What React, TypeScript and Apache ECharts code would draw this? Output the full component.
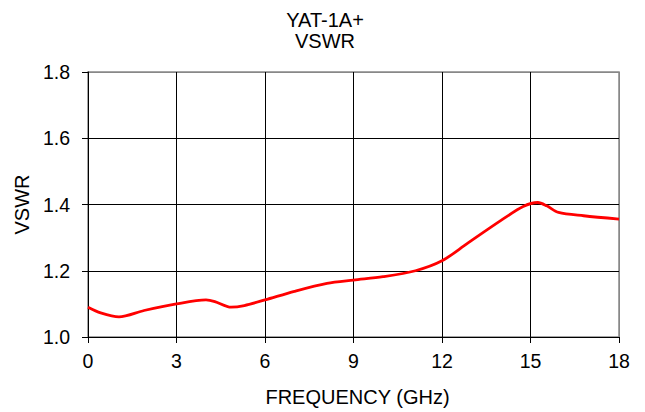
import React, { useEffect, useRef } from "react";
import * as echarts from "echarts";

const titleLines = ["YAT-1A+", "VSWR"];
const xTicks = [0, 3, 6, 9, 12, 15, 18];
const yTicks = [1.0, 1.2, 1.4, 1.6, 1.8];
const freqGHz = [0, 0.43, 1.05, 1.9, 3, 4.0, 4.3, 4.85, 5.3, 6, 7, 8.1, 9, 10, 11.1, 12, 12.85, 14, 14.75, 15.25, 15.55, 15.95, 16.8, 18];
const vswr = [1.09, 1.073, 1.061, 1.08, 1.1, 1.112, 1.107, 1.09, 1.095, 1.112, 1.138, 1.162, 1.172, 1.182, 1.2, 1.23, 1.282, 1.352, 1.394, 1.406, 1.396, 1.376, 1.366, 1.356];

const FONT = "Liberation Sans, Arial, sans-serif";

export default function App() {
  const ref = useRef<HTMLDivElement>(null);
  useEffect(() => {
    if (!ref.current) return;
    const chart = echarts.init(ref.current, null, { renderer: "svg" });
    const data = freqGHz.map((f, i) => [f, vswr[i]]);
    const xColors = xTicks.map((_, i) => (i === xTicks.length - 1 ? "#888" : "#000"));
    const yColors = yTicks.map((_, i) => (i === yTicks.length - 1 ? "#888" : "#000"));
    chart.setOption({
      animation: false,
      backgroundColor: "#fff",
      graphic: titleLines.map((t, i) => ({
        type: "text",
        x: 325,
        y: 19.5 + i * 21.5,
        style: {
          text: t,
          font: `20px ${FONT}`,
          fill: "#000",
          textAlign: "center",
          textVerticalAlign: "middle",
        },
      })),
      grid: {
        left: 88,
        right: 26,
        top: 72,
        bottom: 73,
        show: true,
        borderColor: "#888",
        borderWidth: 1.5,
        containLabel: false,
      },
      xAxis: {
        type: "value",
        min: xTicks[0],
        max: xTicks[xTicks.length - 1],
        interval: 3,
        name: "FREQUENCY (GHz)",
        nameLocation: "middle",
        nameGap: 50,
        nameTextStyle: { fontSize: 20, fontFamily: FONT, color: "#000", padding: [0, 0, 0, 8] },
        axisLine: { show: true, lineStyle: { color: "#000", width: 1 } },
        axisTick: { show: true, length: 6, lineStyle: { color: "#000" } },
        axisLabel: { fontSize: 19.5, fontFamily: FONT, color: "#000", margin: 14 },
        splitLine: { show: true, lineStyle: { color: xColors, width: 1 } },
      },
      yAxis: {
        type: "value",
        min: 1.0,
        max: 1.8,
        interval: 0.2,
        name: "VSWR",
        nameLocation: "middle",
        nameGap: 52,
        nameTextStyle: { fontSize: 20, fontFamily: FONT, color: "#000" },
        axisLine: { show: true, lineStyle: { color: "#000", width: 1 } },
        axisTick: { show: true, length: 6, lineStyle: { color: "#000" } },
        axisLabel: {
          fontSize: 19.5,
          fontFamily: FONT,
          color: "#000",
          margin: 18,
          formatter: (v: number) => v.toFixed(1),
        },
        splitLine: { show: true, lineStyle: { color: yColors, width: 1 } },
      },
      series: [
        {
          type: "line",
          data,
          smooth: 0.3,
          showSymbol: false,
          lineStyle: { color: "#ff0000", width: 2.8 },
        },
      ],
    });
    return () => chart.dispose();
  }, []);
  return (
    <div
      ref={ref}
      style={{ position: "absolute", left: 0, top: 0, width: 645, height: 412 }}
    />
  );
}
